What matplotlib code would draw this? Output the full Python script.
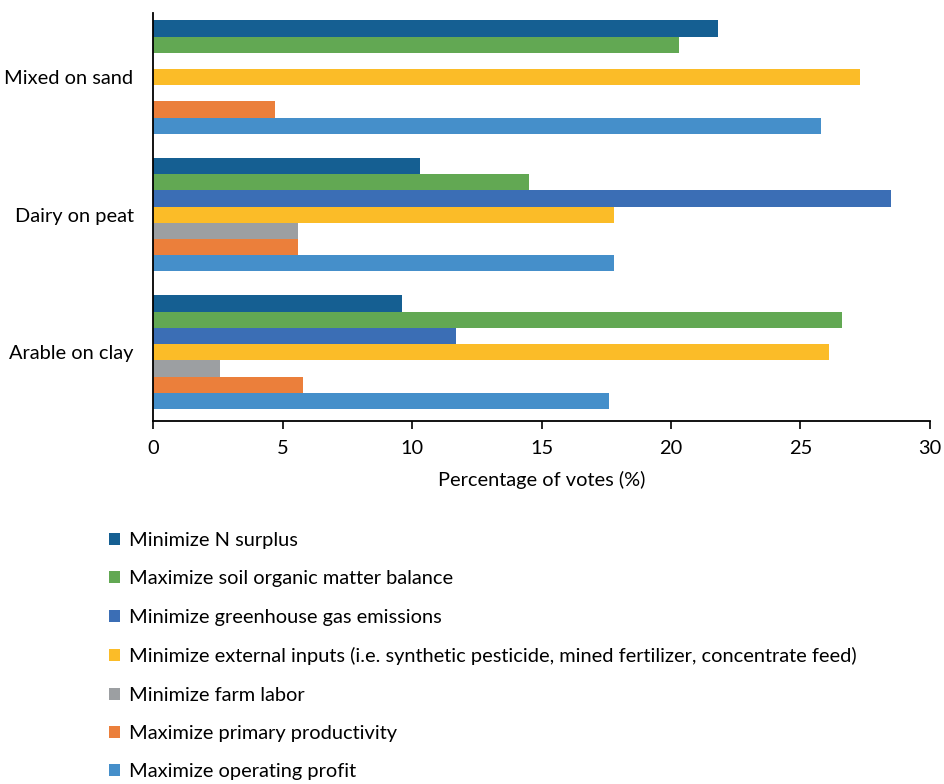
import matplotlib
matplotlib.use("Agg")
import matplotlib.pyplot as plt
from matplotlib.patches import Patch
import numpy as np

plt.rcParams['font.family'] = ['Lato', 'DejaVu Sans']

# Farm types (bottom to top on the y axis)
farm_types = ["Arable on clay", "Dairy on peat", "Mixed on sand"]

# Objectives, in top-to-bottom bar order within each group
objectives = [
    "Minimize N surplus",
    "Maximize soil organic matter balance",
    "Minimize greenhouse gas emissions",
    "Minimize external inputs (i.e. synthetic pesticide, mined fertilizer, concentrate feed)",
    "Minimize farm labor",
    "Maximize primary productivity",
    "Maximize operating profit",
]

# Percentage of votes per objective, ordered as farm_types
n_surplus = [9.6, 10.3, 21.8]
soil_organic_matter = [26.6, 14.5, 20.3]
greenhouse_gas = [11.7, 28.5, 0.0]
external_inputs = [26.1, 17.8, 27.3]
farm_labor = [2.6, 5.6, 0.0]
primary_productivity = [5.8, 5.6, 4.7]
operating_profit = [17.6, 17.8, 25.8]

series = [n_surplus, soil_organic_matter, greenhouse_gas, external_inputs,
          farm_labor, primary_productivity, operating_profit]

colors = ["#155F92", "#62A853", "#3B6EB5", "#FBBC28",
          "#9C9FA2", "#EB7F3B", "#458FCA"]

FS = 14.4

fig = plt.figure(figsize=(9.44, 7.84), dpi=100)
ax = fig.add_axes([153 / 944, 1 - 421 / 784, (930 - 153) / 944, (421 - 12.5) / 784])

n = len(series)
slot = 0.825 / n
y = np.arange(len(farm_types))
for i, (vals, col) in enumerate(zip(series, colors)):
    offset = (n // 2 - i) * slot
    ax.barh(y + offset, vals, height=slot, color=col, linewidth=0)

ax.set_xlim(0, 30)
ax.set_ylim(-0.5, 2.47)
ax.set_xticks(np.arange(0, 31, 5))
ax.set_yticks(y)
ax.set_yticklabels(farm_types)
ax.tick_params(axis='y', length=0, pad=14, labelsize=FS)
ax.tick_params(axis='x', length=6, width=1.2, direction='out', pad=8, labelsize=FS)
for side in ["top", "right"]:
    ax.spines[side].set_visible(False)
for side in ["left", "bottom"]:
    ax.spines[side].set_linewidth(1.3)
    ax.spines[side].set_color("#000000")
ax.set_xlabel("Percentage of votes (%)", fontsize=FS, labelpad=10)

handles = [Patch(facecolor=c, edgecolor='none') for c in colors]
fig.legend(handles, objectives, loc='upper left', bbox_to_anchor=(109 / 944, 1 - 532 / 784),
           frameon=False, fontsize=FS, handlelength=0.55, handleheight=0.55,
           handletextpad=0.45, labelspacing=1.07, borderaxespad=0, borderpad=0)

fig.savefig("out.png", dpi=100)
